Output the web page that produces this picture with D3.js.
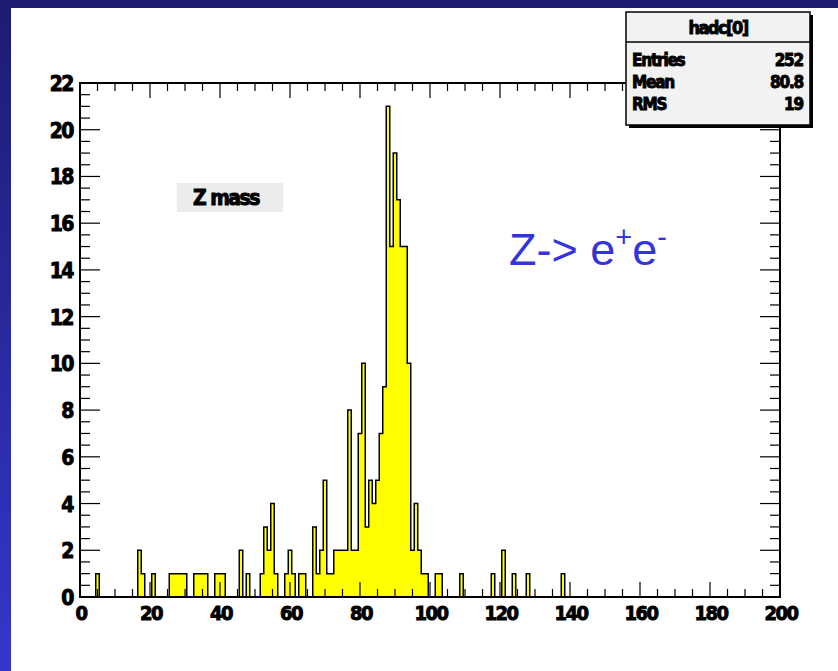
<!DOCTYPE html>
<html lang="en">
<head>
<meta charset="UTF-8">
<title>Z mass</title>
<script src="https://d3js.org/d3.v7.min.js"></script>
<style>
    body { margin: 0; background: #fff; }
    .lbl { font-family: "DejaVu Sans Condensed", "Liberation Sans Narrow", "Liberation Sans", sans-serif; font-weight: bold; fill: #000; stroke: #000; stroke-width: 0.9px; }
</style>
</head>
<body>
<svg id="chart" width="838" height="671"></svg>
<script>
// bin centres (GeV, 1 GeV wide) that have entries, and their counts
const massBins = [5, 17, 18, 21, 26, 27, 28, 29, 30, 33, 34, 35, 36, 39, 40, 41,
    46, 48, 52, 53, 54, 55, 56, 59, 60, 61, 63, 64, 67, 68, 69, 70, 71,
    72, 73, 74, 75, 76, 77, 78, 79, 80, 81, 82, 83, 84, 85, 86, 87, 88, 89,
    90, 91, 92, 93, 94, 95, 96, 97, 98, 99,
    102, 103, 109, 118, 121, 124, 128, 138];
const counts = [1, 2, 1, 1, 1, 1, 1, 1, 1, 1, 1, 1, 1, 1, 1, 1,
    2, 1, 1, 3, 2, 4, 1, 1, 2, 1, 1, 1, 3, 1, 2, 5, 1,
    1, 2, 2, 2, 2, 8, 2, 2, 7, 10, 3, 5, 4, 5, 7, 9, 21, 15,
    19, 17, 15, 15, 10, 2, 4, 2, 1, 1,
    1, 1, 1, 1, 2, 1, 1, 1];

const xTicks = [0, 20, 40, 60, 80, 100, 120, 140, 160, 180, 200];
const yTicks = [0, 2, 4, 6, 8, 10, 12, 14, 16, 18, 20, 22];
const statNames = ["Entries", "Mean", "RMS"];
const statValues = ["252", "80.8", "19"];
const histName = "hadc[0]";

const svg = d3.select("#chart");
const W = 838, H = 671;

// slide background: white with the blue template strips
const defs = svg.append("defs");
const grad = defs.append("linearGradient").attr("id", "side")
    .attr("x1", 0).attr("y1", 0).attr("x2", 0).attr("y2", 1);
grad.append("stop").attr("offset", "0%").attr("stop-color", "#1c1c72");
grad.append("stop").attr("offset", "100%").attr("stop-color", "#3636cc");
svg.append("rect").attr("width", W).attr("height", H).attr("fill", "#fff");
svg.append("rect").attr("x", 0).attr("y", 0).attr("width", 11).attr("height", H).attr("fill", "url(#side)");
svg.append("rect").attr("x", 0).attr("y", 0).attr("width", W).attr("height", 8).attr("fill", "#1c1c72");

const x = d3.scaleLinear().domain([0, 200]).range([80, 780]);
const y = d3.scaleLinear().domain([0, 22]).range([597, 83]);

defs.append("clipPath").attr("id", "frameClip")
    .append("rect").attr("x", 80).attr("y", 83).attr("width", 700).attr("height", 514);

// full histogram, 200 bins
const bins = d3.range(200).map(i => ({ lo: i - 0.5, n: 0 }));
massBins.forEach((m, i) => { bins[m].n = counts[i]; });
const pts = bins.map(b => [b.lo, b.n]).concat([[199.5, 0]]);

const g = svg.append("g").attr("clip-path", "url(#frameClip)");
g.append("path")
    .attr("d", d3.area().x(d => x(d[0])).y0(y(0)).y1(d => y(d[1])).curve(d3.curveStepAfter)(pts))
    .attr("fill", "#ffff00");
g.append("path")
    .attr("d", d3.line().x(d => x(d[0])).y(d => y(d[1])).curve(d3.curveStepAfter)(pts))
    .attr("fill", "none").attr("stroke", "#000").attr("stroke-width", 1.5);

// ticks on all four sides, pointing inwards
const tk = svg.append("g").attr("stroke", "#000").attr("stroke-width", 1.2);
d3.range(0, 201, 5).forEach(v => {
    const len = v % 20 === 0 ? 15 : 8;
    tk.append("line").attr("x1", x(v)).attr("x2", x(v)).attr("y1", y(0)).attr("y2", y(0) - len);
    tk.append("line").attr("x1", x(v)).attr("x2", x(v)).attr("y1", y(22)).attr("y2", y(22) + len);
});
d3.range(0, 22.01, 0.5).forEach(v => {
    const len = v % 2 === 0 ? 20 : 10;
    tk.append("line").attr("x1", x(0)).attr("x2", x(0) + len).attr("y1", y(v)).attr("y2", y(v));
    tk.append("line").attr("x1", x(200)).attr("x2", x(200) - len).attr("y1", y(v)).attr("y2", y(v));
});

// frame
svg.append("rect").attr("x", 80).attr("y", 83).attr("width", 700).attr("height", 514)
    .attr("fill", "none").attr("stroke", "#000").attr("stroke-width", 2);

// axis labels
svg.append("g").selectAll("text").data(xTicks).join("text")
    .attr("class", "lbl").attr("x", d => x(d) + 1).attr("y", 620)
    .attr("text-anchor", "middle").attr("font-size", 20).attr("letter-spacing", -1.5)
    .text(d => d);
svg.append("g").selectAll("text").data(yTicks).join("text")
    .attr("class", "lbl").attr("x", 73).attr("y", d => y(d) + 8)
    .attr("text-anchor", "end").attr("font-size", 21).attr("letter-spacing", -1.5)
    .text(d => d);

// Z mass label box
svg.append("rect").attr("x", 177).attr("y", 183).attr("width", 106).attr("height", 29).attr("fill", "#ececec");
svg.append("text").attr("class", "lbl").attr("x", 226).attr("y", 205)
    .attr("text-anchor", "middle").attr("font-size", 21).attr("letter-spacing", -1.5)
    .text("Z mass");

// Z -> e+e- annotation
const zt = svg.append("text").attr("x", 509).attr("y", 265)
    .attr("font-family", "Liberation Sans, Arial, sans-serif").attr("font-size", 45).attr("fill", "#3434dc");
zt.append("tspan").text("Z-> e");
zt.append("tspan").attr("dy", -18).attr("font-size", 29).text("+");
zt.append("tspan").attr("dy", 18).text("e");
zt.append("tspan").attr("dy", -18).attr("font-size", 29).text("-");

// stats box
const sb = svg.append("g");
sb.append("rect").attr("x", 629).attr("y", 15).attr("width", 184).attr("height", 113).attr("fill", "#000");
sb.append("rect").attr("x", 626).attr("y", 12).attr("width", 184).attr("height", 113)
    .attr("fill", "#f2f2f2").attr("stroke", "#000").attr("stroke-width", 1.5);
sb.append("line").attr("x1", 626).attr("x2", 810).attr("y1", 42).attr("y2", 42)
    .attr("stroke", "#000").attr("stroke-width", 1.5);
sb.append("text").attr("class", "lbl").attr("x", 718).attr("y", 34)
    .attr("text-anchor", "middle").attr("font-size", 18).attr("letter-spacing", -1.5).text(histName);
sb.selectAll(".sn").data(statNames).join("text")
    .attr("class", "lbl").attr("x", 632).attr("y", (d, i) => 66 + i * 22)
    .attr("font-size", 17).attr("letter-spacing", -1.2).text(d => d);
sb.selectAll(".sv").data(statValues).join("text")
    .attr("class", "lbl").attr("x", 803).attr("y", (d, i) => 66 + i * 22)
    .attr("text-anchor", "end").attr("font-size", 17).attr("letter-spacing", -1.2).text(d => d);
</script>
</body>
</html>
